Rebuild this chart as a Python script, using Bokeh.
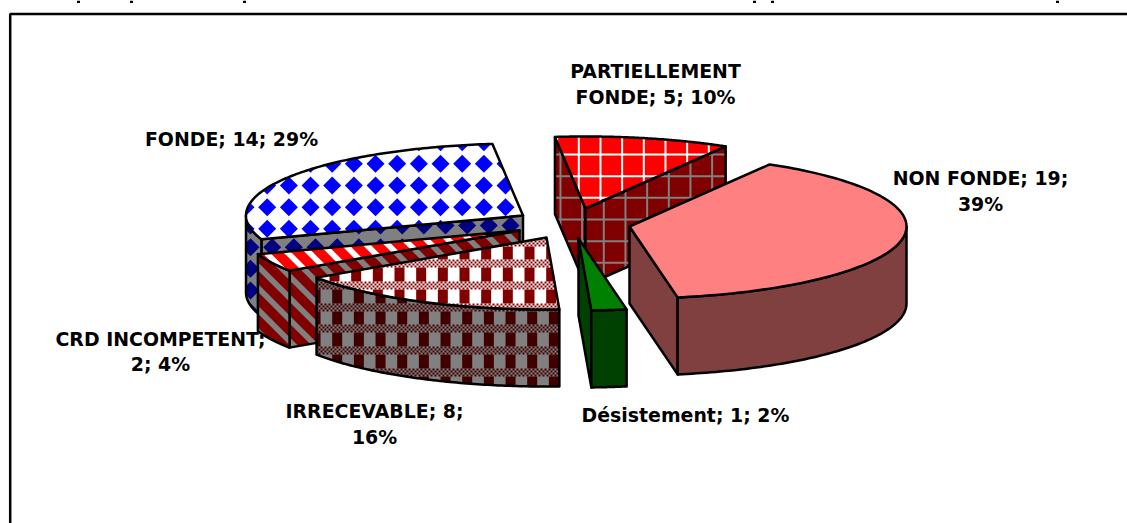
import numpy as np
from bokeh.plotting import figure
from bokeh.models import Range1d
from bokeh.core.properties import value
from bokeh.embed import file_html
from bokeh.resources import INLINE

# ---- data ----
categories = ["NON FONDE", "Désistement", "IRRECEVABLE", "CRD INCOMPETENT", "FONDE", "PARTIELLEMENT FONDE"]
values = [19, 1, 8, 2, 14, 5]
percents = [39, 2, 16, 4, 29, 10]
label_lines = [["NON FONDE; 19;", "39%"], ["Désistement; 1; 2%"], ["IRRECEVABLE; 8;", "16%"],
               ["CRD INCOMPETENT;", "2; 4%"], ["FONDE; 14; 29%"], ["PARTIELLEMENT", "FONDE; 5; 10%"]]

# ---- layout ----
W, H = 1127, 523
START = 30.4
A, B, DEPTH = 277.0, 72.0, 77.0
apex = {"NON FONDE": (629, 226), "Désistement": (578, 238), "IRRECEVABLE": (546, 237),
        "CRD INCOMPETENT": (519, 230), "FONDE": (522.5, 215), "PARTIELLEMENT FONDE": (585, 208)}
label_pos = {"NON FONDE": (980, [177, 203]), "Désistement": (685, [414]), "IRRECEVABLE": (374, [410, 436]),
             "CRD INCOMPETENT": (160, [338, 363]), "FONDE": (231, [138]), "PARTIELLEMENT FONDE": (655, [70, 96])}
draw_order = ["FONDE", "PARTIELLEMENT FONDE", "CRD INCOMPETENT", "IRRECEVABLE", "NON FONDE", "Désistement"]
title_descenders = [78, 131, 244, 754, 772, 1057]   # the page's cut-off line above the frame
FONT_PX = 18.9
S = 65 / 3        # brush repeat in pixels

RED, WHITE, GRAY = "#ff0000", "#ffffff", "#808080"
DRED, BLUE, DBLUE = "#800000", "#0000ff", "#000080"
DDRED = "#400000"


def clip_polygon(subject, cell):
    """Sutherland-Hodgman: keep the part of subject inside a convex cell."""
    out = list(subject)
    n = len(cell)
    area = sum(cell[i][0] * cell[(i + 1) % n][1] - cell[(i + 1) % n][0] * cell[i][1] for i in range(n))
    sign = 1 if area > 0 else -1
    for i in range(n):
        ax, ay = cell[i]
        bx, by = cell[(i + 1) % n]
        inp, out = out, []
        if not inp:
            return []
        side = lambda q: sign * ((bx - ax) * (q[1] - ay) - (by - ay) * (q[0] - ax))
        for j in range(len(inp)):
            cur, nxt = inp[j], inp[(j + 1) % len(inp)]
            sc, sn = side(cur), side(nxt)
            if sc >= 0:
                out.append(cur)
            if sc * sn < 0:
                k = sc / (sc - sn)
                out.append((cur[0] + k * (nxt[0] - cur[0]), cur[1] + k * (nxt[1] - cur[1])))
    return out


def lattice(lo, hi, phase):
    k0 = int(np.floor((lo - phase) / S)) - 1
    k1 = int(np.ceil((hi - phase) / S)) + 1
    return [phase + k * S for k in range(k0, k1 + 1)]


def rect(x0, y0, x1, y1):
    return [(x0, y0), (x1, y0), (x1, y1), (x0, y1)]


def diamonds(fg, sx, sy, r=9.0):
    def make(x0, y0, x1, y1):
        return [(fg, [[(x - r, y), (x, y - r), (x + r, y), (x, y + r)]
                      for x in lattice(x0, x1, sx) for y in lattice(y0, y1, sy)])]
    return make


def stripes(fg, c, w=8.0):
    def make(x0, y0, x1, y1):
        cells = []
        for k in lattice(x0 - y1, x1 - y0, c):
            cells.append([(y0 + k - w / 2, y0), (y0 + k + w / 2, y0), (y1 + k + w / 2, y1), (y1 + k - w / 2, y1)])
        return [(fg, cells)]
    return make


def grid(fg, sx, sy, w=2.0):
    def make(x0, y0, x1, y1):
        cells = [rect(x - w / 2, y0, x + w / 2, y1) for x in lattice(x0, x1, sx)]
        cells += [rect(x0, y - w / 2, x1, y + w / 2) for y in lattice(y0, y1, sy)]
        return [(fg, cells)]
    return make


def plaid(fg, bg, sx, sy):
    def make(x0, y0, x1, y1):
        bars = [rect(x - 5, y0, x + 5, y1) for x in lattice(x0, x1, sx)]
        bands, dots = [], []
        for y in lattice(y0, y1, sy):
            top = round(y - 4)
            bands.append(rect(x0, top, x1, top + 8))
            for row in range(4):
                for col in range(int(x0) // 2, int(x1) // 2 + 1):
                    if (row + col) % 2 == 0:
                        dots.append(rect(col * 2, top + row * 2, col * 2 + 2, top + row * 2 + 2))
        return [(fg, bars), (bg, bands), (fg, dots)]
    return make


# colour and brush of top and walls per slice
style = {
    "NON FONDE": dict(top="#ff8080", wall="#804040"),
    "Désistement": dict(top="#008000", wall="#004000"),
    "IRRECEVABLE": dict(top=WHITE, wall=GRAY,
                        top_b=plaid(DRED, WHITE, 464, 263.3), wall_b=plaid(DDRED, GRAY, 466.7, 263.3)),
    "CRD INCOMPETENT": dict(top=RED, wall=DRED,
                            top_b=stripes(WHITE, -8.3), wall_b=stripes(GRAY, -8.3)),
    "FONDE": dict(top=WHITE, wall=GRAY,
                  top_b=diamonds(BLUE, 266.7, 206.7), wall_b=diamonds(DBLUE, 250, 246.7)),
    "PARTIELLEMENT FONDE": dict(top=RED, wall=DRED,
                                top_b=grid(WHITE, 578.3, 154), wall_b=grid(GRAY, 603.3, 175.7)),
}

p = figure(width=W, height=H, output_backend="svg", toolbar_location=None,
           x_range=Range1d(0, W), y_range=Range1d(H, 0),
           x_axis_type=None, y_axis_type=None, min_border=0,
           outline_line_color=None, background_fill_color="white", border_fill_color="white")
p.xgrid.visible = False
p.ygrid.visible = False

# frame of the chart area, open to the right and at the bottom
p.line([9.7, 9.7, W], [H, 13.5, 13.5], line_color="black", line_width=2.5)
p.quad(left=[x - 1.5 for x in title_descenders], right=[x + 1.5 for x in title_descenders],
       top=[0] * len(title_descenders), bottom=[2.5] * len(title_descenders), fill_color="black", line_color=None)

total = sum(values)
sweeps = [v / total * 360 for v in values]
starts = START + np.cumsum([0] + sweeps[:-1])
slices = {c: (s, s + w) for c, s, w in zip(categories, starts, sweeps)}


def rim(c, t):
    cx, cy = apex[c]
    r = np.radians(t)
    return cx + A * np.sin(r), cy - B * np.cos(r)


def face(xs, ys, fill, brush):
    xs, ys = list(map(float, xs)), list(map(float, ys))
    p.patch(xs, ys, fill_color=fill, line_color=None)
    if brush:
        subject = list(zip(xs, ys))
        for color, cells in brush(min(xs), min(ys), max(xs), max(ys)):
            px, py = [], []
            for cell in cells:
                part = clip_polygon(subject, cell)
                if len(part) >= 3:
                    px.append([q[0] for q in part])
                    py.append([q[1] for q in part])
            if px:
                p.patches(px, py, fill_color=color, line_color=None)
    p.patch(xs, ys, fill_color=None, line_color="black", line_width=2.5, line_join="round")


for c in draw_order:
    t0, t1 = slices[c]
    cx, cy = apex[c]
    st = style[c]
    # radial walls that look towards the viewer
    for t, normal in ((t0, t0 - 90), (t1, t1 + 90)):
        if np.cos(np.radians(normal)) < 0:
            ex, ey = rim(c, t)
            face([cx, ex, ex, cx], [cy, ey, ey + DEPTH, cy + DEPTH], st["wall"], st.get("wall_b"))
    # outer wall: the part of the rim on the near half of the ellipse
    lo, hi = max(t0, 90), min(t1, 270)
    if hi > lo:
        ts = np.linspace(lo, hi, 80)
        ax, ay = rim(c, ts)
        face(np.r_[ax, ax[::-1]], np.r_[ay, ay[::-1] + DEPTH], st["wall"], st.get("wall_b"))
    # top face
    ts = np.linspace(t0, t1, 120)
    ax, ay = rim(c, ts)
    face(np.r_[cx, ax], np.r_[cy, ay], st["top"], st.get("top_b"))

# labels: "name; value; percent"
for c, lines in zip(categories, label_lines):
    x, ys = label_pos[c]
    for line, y in zip(lines, ys):
        p.text([x], [y], text=[line], text_font=value("DejaVu Sans"), text_font_style="bold",
               text_font_size=f"{FONT_PX}px", text_align="center", text_baseline="middle", text_color="black")

open("out.html", "w").write(file_html(p, INLINE))
